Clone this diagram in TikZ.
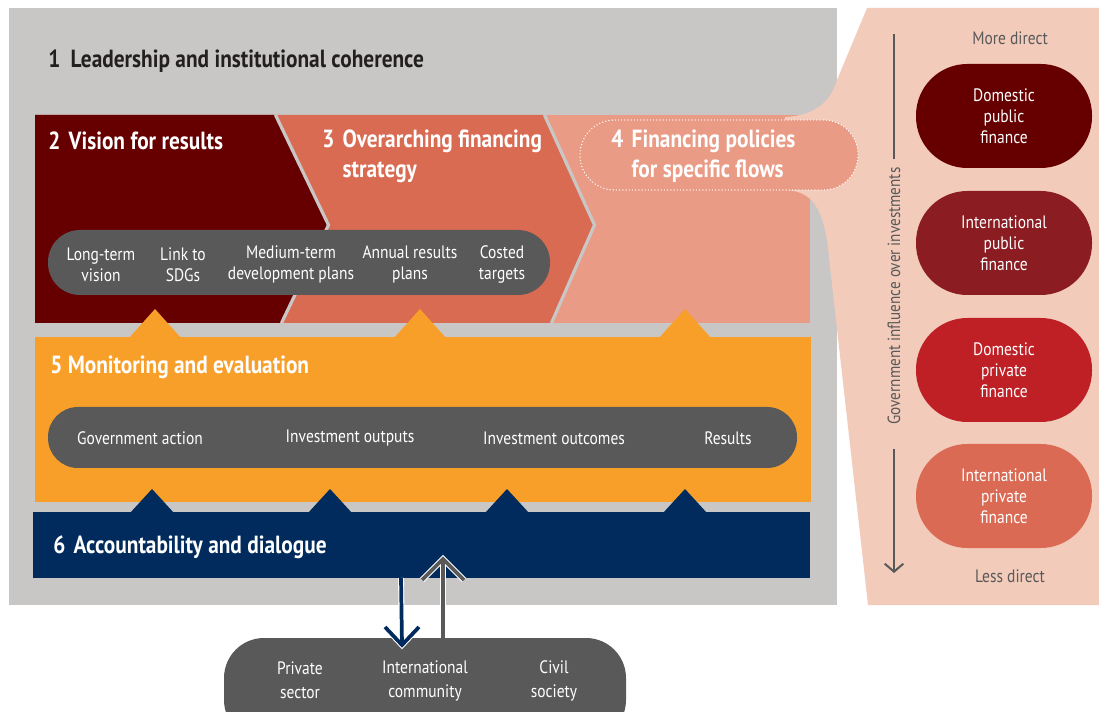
\documentclass[tikz,border=0pt]{standalone}
\usepackage{fontspec}
\setmainfont{PT Sans}[FakeStretch=0.86]
\usetikzlibrary{calc,arrows.meta}
\definecolor{frameGray}{HTML}{C8C7C5}
\definecolor{visionRed}{HTML}{660000}
\definecolor{strategyCoral}{HTML}{D96B53}
\definecolor{policySalmon}{HTML}{E99B85}
\definecolor{flowPink}{HTML}{F2CBBB}
\definecolor{monitorOrange}{HTML}{F89F2A}
\definecolor{accountNavy}{HTML}{002B5C}
\definecolor{pillGray}{HTML}{595959}
\definecolor{titleInk}{HTML}{231F20}
\definecolor{intlPublic}{HTML}{8B1C21}
\definecolor{domPrivate}{HTML}{BE2026}
\definecolor{intlPrivate}{HTML}{DA6A53}
\tikzset{
  chevron line/.style={draw=frameGray,line width=2.4pt,line join=miter},
  lead title/.style={font=\bfseries\fontsize{18.6}{22}\selectfont,text=titleInk,anchor=west,inner sep=0pt},
  block title/.style={font=\bfseries\fontsize{18.6}{22.5}\selectfont,text=white,anchor=west,align=left,inner sep=0pt},
  step pill/.style={fill=pillGray,inner sep=0pt,outer sep=0pt},
  pill label/.style={font=\fontsize{13.5}{15.75}\selectfont,text=white,align=center,inner sep=0pt},
  policy pill/.style={fill=policySalmon,draw=white,line width=1.1pt,line cap=round,dash pattern=on 0pt off 2.4pt,
    minimum width=208.5pt,minimum height=52.5pt,rounded corners=26pt,inner sep=0pt},
  finance oval/.style={minimum width=132pt,minimum height=78pt,rounded corners=38.5pt,inner sep=0pt,
    font=\fontsize{13.5}{15.75}\selectfont,text=white,align=center},
  side label/.style={font=\fontsize{13.5}{15}\selectfont,text=pillGray,inner sep=0pt},
  influence line/.style={draw=pillGray,line width=1.5pt},
  arrow halo/.style={draw=white,line width=4.4pt,line join=miter},
  arrow core/.style={draw=#1,line width=2.8pt,line join=miter},
}

\begin{document}
\begin{tikzpicture}[x=0.75pt,y=-0.75pt]
\useasboundingbox (0,0) rectangle (1099,712);
\fill[frameGray] (9,8) rectangle (837,605);
\node[lead title] (lead) at (48,61) {1\hspace{0.2em} Leadership and institutional coherence};

\fill[policySalmon] (35,115) rectangle (810,323);
\fill[strategyCoral] (35,115) -- (543,115) -- (593,225) -- (550,323) -- (35,323) -- cycle;
\fill[visionRed] (35,115) -- (274,115) -- (327,225) -- (280,323) -- (35,323) -- cycle;
\draw[chevron line] (275.5,115) -- (328.5,225) -- (281.5,323);
\draw[chevron line] (544.5,115) -- (594.5,225) -- (551.5,323);
\fill[flowPink] (867,8) -- (1099,8) -- (1099,605) -- (868,605) -- (827,240)
  .. controls (821,206) and (811,191) .. (785,190) -- (785,117)
  .. controls (812,116) and (830,104) .. (837,80) -- cycle;

\node[block title] (vision) at (48,141) {2\hspace{0.12em} Vision for results};
\node[block title] (strategy) at (322,156) {3\hspace{0.12em} Overarching financing\\\phantom{3\hspace{0.12em} }strategy};
\node[policy pill] (policyPill) at (719,155) {};
\node[block title] (policy) at (611,156) {4\hspace{0.12em} Financing policies\\\phantom{4\hspace{0.12em} }for specific flows};

\node[step pill,minimum width=376.5pt,minimum height=48.75pt,rounded corners=24pt] (visionPill) at (299,262.5) {};
\foreach \i/\x/\lbl in {1/101/Long-term\\vision, 2/183/Link to\\SDGs, 3/291/Medium-term\\development plans,
  4/410/Annual results\\plans, 5/502/Costed\\targets}
  \node[pill label] (visionStep\i) at (\x,264.5) {\lbl};

\foreach \x in {155,420,685}
  \fill[monitorOrange] (\x-26,338) -- (\x,309) -- (\x+26,338) -- cycle;
\fill[monitorOrange] (35,337) rectangle (811,502);
\node[block title] (monitor) at (50,367) {5 Monitoring and evaluation};
\node[step pill,minimum width=561.75pt,minimum height=45.75pt,rounded corners=22.5pt] (monitorPill) at (422.5,437.5) {};
\foreach \i/\x/\lbl in {1/140/Government action, 2/350/Investment outputs, 3/554/Investment outcomes, 4/728/Results}
  \node[pill label] (monitorStep\i) at (\x,438) {\lbl};

\foreach \x in {152,330,507,685}
  \fill[accountNavy] (\x-22,513) -- (\x,489) -- (\x+22,513) -- cycle;
\node[fill=accountNavy,minimum width=582.75pt,minimum height=49.5pt,inner sep=0pt,outer sep=0pt] (accBand) at (421.5,545) {};
\node[block title] (account) at (53,547) {6\hspace{0.12em} Accountability and dialogue};

\node[step pill,minimum width=301.5pt,minimum height=76.5pt,rounded corners=30pt] (partners) at (425,689) {};
\foreach \i/\x/\lbl in {1/300/Private\\sector, 2/425/International\\community, 3/554/Civil\\society}
  \node[pill label,font=\fontsize{13.5}{18}\selectfont] (partner\i) at (\x,680.5) {\lbl};

\coordinate (askFrom) at ($(accBand.south)+(-20.5,0)$);
\coordinate (askTip) at ($(partners.north)+(-23,7)$);
\coordinate (tellFrom) at ($(partners.north)+(18,0)$);
\coordinate (tellTip) at ($(accBand.south)+(21.5,-19)$);
\draw[arrow halo] (askFrom) -- (askTip);
\draw[arrow halo,line cap=square] ($(askTip)+(-17,-18)$) -- (askTip) -- ($(askTip)+(17,-18)$);
\draw[arrow halo] (tellFrom) -- (tellTip);
\draw[arrow halo,line cap=square] ($(tellTip)+(-21,21)$) -- (tellTip) -- ($(tellTip)+(21,21)$);
\draw[arrow core=accountNavy] (askFrom) -- (askTip);
\draw[arrow core=accountNavy] ($(askTip)+(-17,-18)$) -- (askTip) -- ($(askTip)+(17,-18)$);
\draw[arrow core=pillGray] (tellFrom) -- (tellTip);
\draw[arrow core=pillGray] ($(tellTip)+(-21,21)$) -- (tellTip) -- ($(tellTip)+(21,21)$);

\node[side label] (moreDirect) at (1010,38) {More direct};
\node[side label] (lessDirect) at (1010,576) {Less direct};
\foreach \i/\y/\col/\txt in {1/116/visionRed/Domestic\\public\\finance, 2/243/intlPublic/International\\public\\finance,
  3/370/domPrivate/Domestic\\private\\finance, 4/496/intlPrivate/International\\private\\finance}
  \node[finance oval,fill=\col] (flow\i) at (1004,\y) {\txt};
\node[side label,rotate=90,font=\fontsize{13.2}{15}\selectfont] (influence) at (894,296) {Government influence over investments};
\draw[influence line] (894,34) -- ($(influence.east)+(0,-8)$);
\draw[influence line,-{Straight Barb[length=6pt,width=14pt]}] ($(influence.west)+(0,24)$) -- (894,573);
\end{tikzpicture}
\end{document}
